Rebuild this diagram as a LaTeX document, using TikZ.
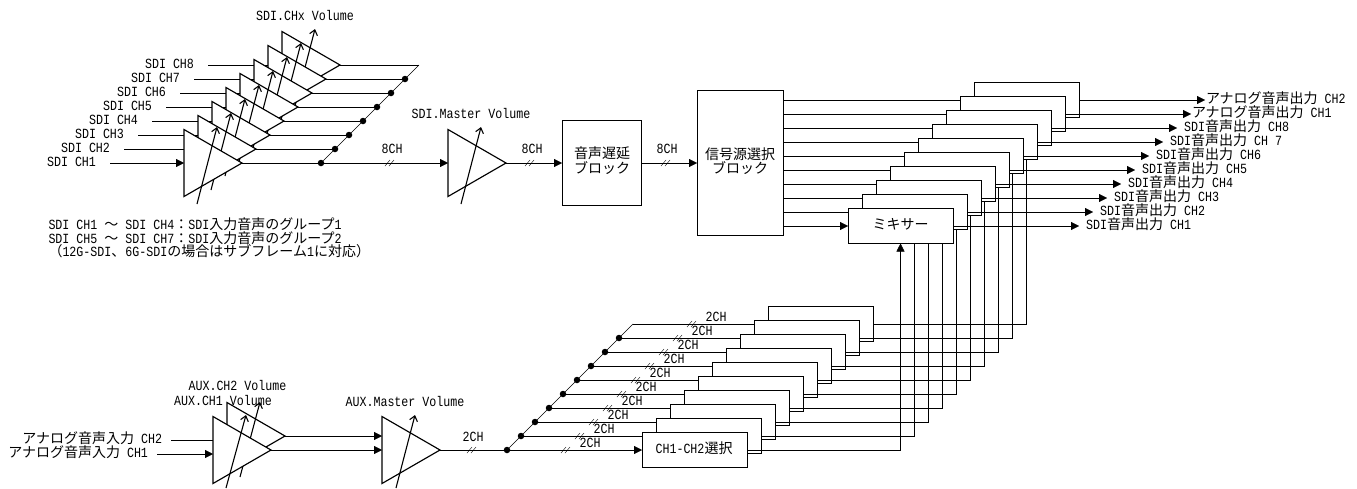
\documentclass[tikz,border=0pt]{standalone}
\usepackage{fontspec}
\setmainfont[FakeStretch=0.833]{Liberation Mono}
\newfontfamily\jpfont{Noto Sans CJK JP}
\newcommand{\jp}[1]{{\jpfont #1}}
\usetikzlibrary{arrows.meta,calc,shapes.geometric}
\pgfdeclarelayer{background}
\pgfdeclarelayer{blocks}
\pgfdeclarelayer{wires}
\pgfsetlayers{background,blocks,wires,main}

\begin{document}
\begin{tikzpicture}[
    x=1pt, y=-1pt,
    line width=0.9pt,
    >={Triangle[length=8pt,width=8pt]},
    amp/.style={
        draw,
        line width=1.15pt,
        fill=white,
        isosceles triangle,
        isosceles triangle stretches,
        shape border rotate=0,
        minimum width=67pt,
        minimum height=58pt,
        inner sep=0pt,
        outer sep=0pt,
        anchor=lower side
    },
    box/.style={
        draw,
        fill=white,
        inner sep=0pt,
        outer sep=0pt,
        align=center
    },
    stackbox/.style={box, minimum width=105pt, minimum height=35pt},
    junction/.style={
        circle,
        fill=black,
        minimum size=6.5pt,
        inner sep=0pt,
        outer sep=0pt
    },
    lbl/.style={
        font=\fontsize{14}{16}\selectfont,
        inner sep=0pt,
        outer sep=0pt,
        text height=10pt,
        text depth=3pt
    },
    knob/.style={line width=1.1pt, -{Straight Barb[length=5pt,width=8pt]}},
    slashes/.pic={
        \draw (-6,3) -- (-1,-3);
        \draw (-2,3) -- (3,-3);
    }
]
\useasboundingbox (0,0) rectangle (1357,488);

% SDI channel amplifiers, back to front so each one hides the one behind.
\foreach \i in {8,7,...,1} {
    \pgfmathsetmacro{\x}{184+14*(\i-1)}
    \pgfmathsetmacro{\y}{163-14*(\i-1)}
    \node[amp] (ampS\i) at (\x,\y) {};
    \draw[knob] ($(ampS\i.lower side)+(13,41)$) -- +(20,-77);
    \node[lbl, anchor=east, inner xsep=14pt] (inS\i) at ($(\x,\y)+(-74,0)$) {SDI CH\i};
    \begin{pgfonlayer}{background}
        \draw[->] (inS\i.east) -- (ampS\i.lower side);
    \end{pgfonlayer}
}
\node[lbl] (lblSV) at (305,17) {SDI.CHx Volume};

\node[lbl, anchor=west] (grp1) at (48.5,226) {SDI CH1 \jp{～} SDI CH4\jp{：}SDI\jp{入力音声のグループ}1};
\node[lbl, anchor=west] (grp2) at (48.5,239.5) {SDI CH5 \jp{～} SDI CH7\jp{：}SDI\jp{入力音声のグループ}2};
\node[lbl, anchor=west] (grp3) at (48.5,253) {\jp{（}12G-SDI\jp{、}6G-SDI\jp{の場合はサブフレーム}1\jp{に対応）}};

% SDI bus
\node[amp] (ampM) at (448,163) {};
\draw[knob] ($(ampM.lower side)+(13,41)$) -- +(20,-77);
\node[lbl] (lblMV) at (471,115) {SDI.Master Volume};
\foreach \i in {1,...,7} {
    \pgfmathsetmacro{\x}{321+14*(\i-1)}
    \pgfmathsetmacro{\y}{163-14*(\i-1)}
    \node[junction] (dotS\i) at (\x,\y) {};
}
\coordinate (endS) at (419,65);
\draw (dotS1) -- (endS);
\foreach \i in {2,...,7} {
    \draw (ampS\i.apex) -- (dotS\i);
}
\draw (ampS8.apex) -- (endS);
\draw[->] (ampS1.apex) -- (ampM.lower side);
\pic at (391,163) {slashes};
\node[lbl] (lbl8a) at (392,150) {8CH};

% Delay and source selection
\node[box, minimum width=79pt, minimum height=85pt] (delay) at (601.5,162.5) {};
\node[lbl] (delayA) at (602,155) {\jp{音声遅延}};
\node[lbl] (delayB) at (602,170) {\jp{ブロック}};
\node[box, minimum width=86pt, minimum height=145pt] (source) at (740,162.5) {};
\node[lbl] (sourceA) at (740,156) {\jp{信号源選択}};
\node[lbl] (sourceB) at (740,170) {\jp{ブロック}};
\draw[->] (ampM.apex) -- (delay.west |- ampM.apex);
\draw[->] (delay.east |- ampM.apex) -- (source.west |- ampM.apex);
\pic at (531,163) {slashes};
\node[lbl] (lbl8b) at (532,150) {8CH};
\pic at (667,163) {slashes};
\node[lbl] (lbl8c) at (667,150) {8CH};

% Mixer stack
\foreach \i in {10,9,...,2} {
    \pgfmathsetmacro{\x}{900.5+14*(\i-1)}
    \pgfmathsetmacro{\y}{226-14*(\i-1)}
    \node[stackbox] (mix\i) at (\x,\y) {};
}
\node[stackbox] (mix1) at (900.5,226) {};
\node[lbl] (mixtxt) at (900.5,226) {\jp{ミキサー}};

\foreach \i/\gap/\txt in {
    1/7/{SDI\jp{音声出力} CH1},
    2/7/{SDI\jp{音声出力} CH2},
    3/7/{SDI\jp{音声出力} CH3},
    4/7/{SDI\jp{音声出力} CH4},
    5/7/{SDI\jp{音声出力} CH5},
    6/7/{SDI\jp{音声出力} CH6},
    7/7/{SDI\jp{音声出力} CH 7},
    8/7/{SDI\jp{音声出力} CH8},
    9/1/{\jp{アナログ音声出力} CH1},
    10/1/{\jp{アナログ音声出力} CH2}
} {
    \pgfmathsetmacro{\x}{1079+14*(\i-1)}
    \pgfmathsetmacro{\y}{226-14*(\i-1)}
    \node[lbl, anchor=west, inner xsep=\gap pt] (out\i) at (\x,\y) {\txt};
    \draw[->] (mix\i.east) -- (out\i.west);
    \begin{pgfonlayer}{wires}
        \draw[->] (source.east |- mix\i.west) -- (mix\i.west);
    \end{pgfonlayer}
}

% AUX amplifiers
\node[amp] (ampA2) at (227,436) {};
\draw[knob] ($(ampA2.lower side)+(13,41)$) -- +(20,-75);
\node[amp] (ampA1) at (213,450) {};
\draw[knob] ($(ampA1.lower side)+(13,38)$) -- +(20,-73);
\node[amp] (ampAM) at (382,450) {};
\draw[knob] ($(ampAM.lower side)+(14,38)$) -- +(19,-73);
\node[lbl, anchor=east, inner xsep=9pt] (inA2) at (171,440) {\jp{アナログ音声入力} CH2};
\node[lbl, anchor=east, inner xsep=9pt] (inA1) at (157,454) {\jp{アナログ音声入力} CH1};
\begin{pgfonlayer}{background}
    \draw (inA2.east) -- (inA2.east -| ampA2.lower side);
    \draw[->] (inA1.east) -- (inA1.east -| ampA1.lower side);
\end{pgfonlayer}
\node[lbl] (lblA2) at (237.5,387) {AUX.CH2 Volume};
\node[lbl] (lblA1) at (223,402) {AUX.CH1 Volume};
\node[lbl] (lblAM) at (405,403) {AUX.Master Volume};
\draw[->] (ampA2.apex) -- (ampA2.apex -| ampAM.lower side);
\draw[->] (ampA1.apex) -- (ampA1.apex -| ampAM.lower side);
\pic at (473,450) {slashes};
\node[lbl] (lbl2a) at (473,438) {2CH};

% CH1-CH2 selection stack, fanned out from the AUX bus
\foreach \i in {1,...,9} {
    \pgfmathsetmacro{\x}{507+14*(\i-1)}
    \pgfmathsetmacro{\y}{450-14*(\i-1)}
    \node[junction] (dotA\i) at (\x,\y) {};
}
\coordinate (dotA10) at (633,324);
\draw (dotA1) -- (dotA10);
\draw (ampAM.apex) -- (dotA1);

\foreach \i in {10,9,...,2} {
    \pgfmathsetmacro{\x}{694.5+14*(\i-1)}
    \pgfmathsetmacro{\y}{450-14*(\i-1)}
    \begin{pgfonlayer}{blocks}
        \node[stackbox] (sel\i) at (\x,\y) {};
    \end{pgfonlayer}
}
\begin{pgfonlayer}{blocks}
    \node[stackbox] (sel1) at (694.5,450) {};
\end{pgfonlayer}
\node[lbl] (seltxt) at (694,450) {CH1-CH2\jp{選択}};

\foreach \i in {1,...,10} {
    \pgfmathsetmacro{\x}{567+14*(\i-1)}
    \pgfmathsetmacro{\y}{450-14*(\i-1)}
    \begin{pgfonlayer}{background}
        \draw[->] (dotA\i) -- (sel\i.west);
    \end{pgfonlayer}
    \begin{pgfonlayer}{wires}
        \draw[->] (sel\i.east) -| (mix\i.south);
    \end{pgfonlayer}
    \pic at (\x,\y) {slashes};
    \node[lbl] (lbl2\i) at ($(\x,\y)+(23,-6)$) {2CH};
}

\end{tikzpicture}
\end{document}
